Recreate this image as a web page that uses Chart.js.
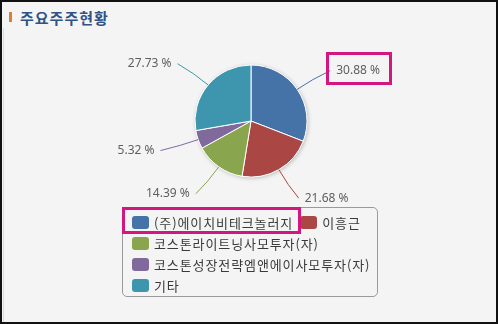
<!DOCTYPE html>
<html lang="ko">
<head>
<meta charset="utf-8">
<script src="https://cdn.jsdelivr.net/npm/chart.js@4"></script>
<style>
  html, body { margin: 0; padding: 0; background: #f4f4f4; }
  #frame { position: absolute; left: 0; top: 0; width: 498px; height: 324px; box-sizing: border-box;
           border: 2px solid #111; background: #f4f4f4; overflow: hidden;
           font-family: "Noto Sans CJK KR", "Noto Sans", sans-serif; }
  #edge { position: absolute; left: 1px; top: 26px; bottom: 0; width: 1px; background: #dcdcdc; }
  #bar { position: absolute; left: 7px; top: 10px; width: 3px; height: 10px; background: #d9822b; }
  #title { position: absolute; left: 18px; top: 4px; font-size: 15px; font-weight: bold; color: #2f5287; line-height: 24px; letter-spacing: 1px; }
  canvas { position: absolute; left: -2px; top: -2px; }
  #legend { position: absolute; left: 120px; top: 205px; width: 256px; height: 90px; box-sizing: border-box;
            border: 1px solid #9a9a9a; border-radius: 5px; padding: 4px 0 0 9px;
            display: flex; flex-wrap: wrap; align-content: flex-start; }
  .item { display: flex; align-items: center; height: 21px; margin-right: 7px; font-size: 13px; color: #3a3a3a;
          white-space: nowrap; letter-spacing: 0.9px; }
  .sym { width: 17px; height: 13px; border-radius: 3px; margin-right: 5px; }
  .mark { position: absolute; border: 3px solid #d3177f; box-sizing: border-box; }
</style>
</head>
<body>
<div id="frame">
  <div id="edge"></div>
  <div id="bar"></div>
  <div id="title">주요주주현황</div>
  <canvas id="pieChart" width="498" height="324"></canvas>
  <div id="legend"></div>
  <div class="mark" style="left:324px; top:50px; width:66px; height:33px;"></div>
  <div class="mark" style="left:120px; top:205px; width:179px; height:27px;"></div>
</div>
<script>
// 주요주주 지분율 (%)
const holders = ['(주)에이치비테크놀러지', '이흥근', '코스톤라이트닝사모투자(자)', '코스톤성장전략엠앤에이사모투자(자)', '기타'];
const shares = [30.88, 21.68, 14.39, 5.32, 27.73];
const sliceColors = ['#4572a7', '#aa4643', '#89a54e', '#80699b', '#3d96ae'];

// 범례
document.getElementById('legend').innerHTML = holders.map((h, i) =>
  `<div class="item"><span class="sym" style="background:${sliceColors[i]}"></span>${h}</div>`
).join('');

// 그림자 + 데이터 라벨 (연결선 포함)
const pieLabels = {
  id: 'pieLabels',
  beforeDatasetsDraw(chart) {
    const arc = chart.getDatasetMeta(0).data[0];
    const { ctx } = chart;
    ctx.save();
    ctx.shadowColor = 'rgba(0,0,0,0.25)';
    ctx.shadowBlur = 4;
    ctx.shadowOffsetX = 1;
    ctx.shadowOffsetY = 1;
    ctx.beginPath();
    ctx.arc(arc.x, arc.y, arc.outerRadius, 0, Math.PI * 2);
    ctx.fillStyle = '#fff';
    ctx.fill();
    ctx.restore();
  },
  afterDatasetsDraw(chart) {
    const { ctx } = chart;
    const meta = chart.getDatasetMeta(0);
    ctx.save();
    ctx.font = '12px "Noto Sans", "Noto Sans CJK KR", sans-serif';
    ctx.textBaseline = 'middle';
    meta.data.forEach((arc, i) => {
      const mid = (arc.startAngle + arc.endAngle) / 2;
      const dx = Math.cos(mid), dy = Math.sin(mid);
      const r = arc.outerRadius;
      const sx = arc.x + r * dx, sy = arc.y + r * dy;
      const cx = arc.x + (r + 18) * dx, cy = arc.y + (r + 18) * dy;
      const ex = arc.x + (r + 40) * dx, ey = arc.y + (r + 33) * dy;
      ctx.strokeStyle = sliceColors[i];
      ctx.lineWidth = 1;
      ctx.beginPath();
      ctx.moveTo(sx, sy);
      ctx.quadraticCurveTo(cx, cy, ex, ey);
      ctx.stroke();
      const right = dx >= 0;
      ctx.fillStyle = '#5f5f5f';
      ctx.textAlign = right ? 'left' : 'right';
      ctx.fillText(shares[i].toFixed(2) + ' %', ex + (right ? 6 : -6), ey);
    });
    ctx.restore();
  }
};

new Chart(document.getElementById('pieChart'), {
  type: 'pie',
  data: {
    labels: holders,
    datasets: [{ data: shares, backgroundColor: sliceColors, borderColor: '#fff', borderWidth: 1 }]
  },
  options: {
    responsive: false,
    devicePixelRatio: 1,
    animation: false,
    radius: 56,
    layout: { padding: { left: 191, right: 187, top: 61, bottom: 143 } },
    plugins: { legend: { display: false }, tooltip: { enabled: false } }
  },
  plugins: [pieLabels]
});
</script>
</body>
</html>
